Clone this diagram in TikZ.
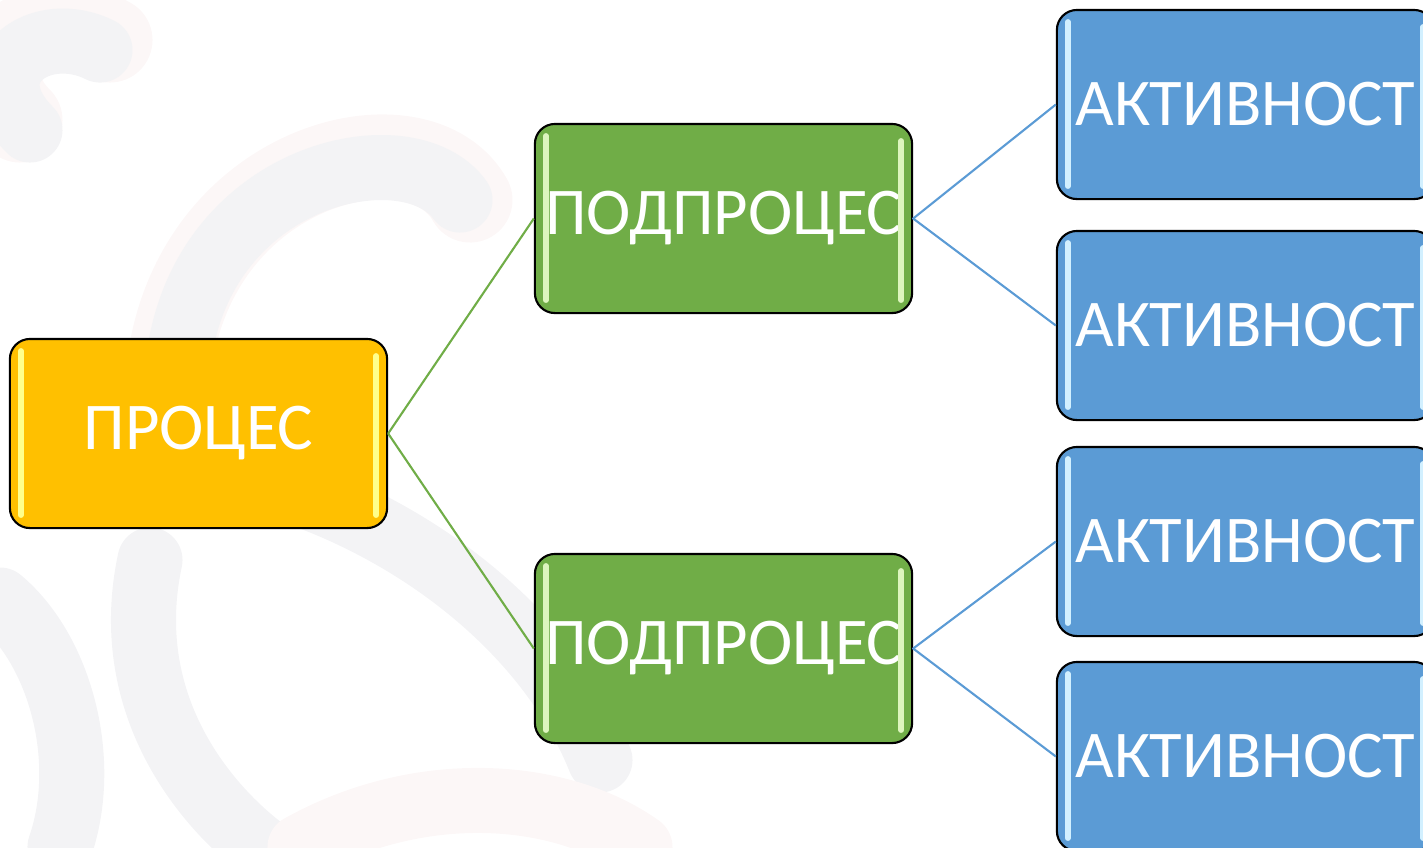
\documentclass[tikz,border=0pt]{standalone}
\usepackage{fontspec}
\setmainfont{Carlito}
\definecolor{procyellow}{HTML}{FFC000}
\definecolor{subgreen}{HTML}{70AD47}
\definecolor{actblue}{HTML}{5B9BD5}
\definecolor{hlyellow}{HTML}{FFFF8C}
\definecolor{hlgreen}{HTML}{DDF5BE}
\definecolor{hlblue}{HTML}{D2F0FF}
\definecolor{wmgray}{HTML}{F3F3F5}
\definecolor{wmpink}{HTML}{FCF7F7}
\tikzset{
	box/.style={draw=black, line width=0.6pt, rounded corners=0.2cm,
		minimum width=3.77cm, minimum height=1.89cm, inner sep=0pt,
		text=white, font=\fontsize{19}{22}\selectfont},
	procbox/.style={box, fill=procyellow},
	subbox/.style={box, fill=subgreen},
	actbox/.style={box, fill=actblue},
	hl/.style={line width=1.6pt, line cap=round},
	wm/.style={line width=0.65cm, wmgray, line cap=round},
}
\begin{document}
\begin{tikzpicture}[x=0.01cm, y=-0.01cm, line join=round]
	\useasboundingbox (0,0) rectangle (1423,847);
	\clip (0,0) rectangle (1423,847);
	% faint paragraph-sign watermark
	\draw[wm, wmpink, line width=0.85cm] (20,120) .. controls (-40,60) and (40,0) .. (110,40);
	\draw[wm] (30,130) .. controls (-30,70) and (40,20) .. (100,50);
	\draw[wm, wmpink, line width=0.85cm] (170,360) .. controls (200,160) and (420,110) .. (470,200);
	\draw[wm] (180,350) .. controls (210,170) and (410,130) .. (460,200);
	\draw[wm] (60,470) .. controls (250,430) and (520,560) .. (600,760);
	\draw[wm] (150,560) .. controls (120,700) and (200,800) .. (260,847);
	\draw[wm] (0,600) .. controls (60,650) and (90,760) .. (60,847);
	\draw[wm, wmpink] (300,847) .. controls (420,780) and (560,790) .. (640,847);
	% boxes
	\node[procbox] (proc) at (198.5,433.5) {ПРОЦЕС};
	\node[subbox] (sub1) at (723.5,218.5) {ПОДПРОЦЕС};
	\node[subbox] (sub2) at (723.5,648.5) {ПОДПРОЦЕС};
	\node[actbox] (act1) at (1245.5,104.5) {АКТИВНОСТ};
	\node[actbox] (act2) at (1245.5,325.5) {АКТИВНОСТ};
	\node[actbox] (act3) at (1245.5,541.5) {АКТИВНОСТ};
	\node[actbox] (act4) at (1245.5,756.5) {АКТИВНОСТ};
	% glossy side strokes
	\foreach \n/\c in {proc/hlyellow, sub1/hlgreen, sub2/hlgreen, act1/hlblue, act2/hlblue, act3/hlblue, act4/hlblue}{
		\draw[hl, \c] ([xshift=0.12cm, yshift=-0.13cm]\n.north west) -- ([xshift=0.12cm, yshift=0.14cm]\n.south west);
		\draw[hl, \c] ([xshift=-0.12cm, yshift=-0.18cm]\n.north east) -- ([xshift=-0.12cm, yshift=0.14cm]\n.south east);
	}
	% connectors
	\draw[subgreen, line width=0.6pt] (sub1.west) -- (proc.east) -- (sub2.west);
	\draw[actblue, line width=0.6pt] (act1.west) -- (sub1.east) -- (act2.west);
	\draw[actblue, line width=0.6pt] (act3.west) -- (sub2.east) -- (act4.west);
\end{tikzpicture}
\end{document}
